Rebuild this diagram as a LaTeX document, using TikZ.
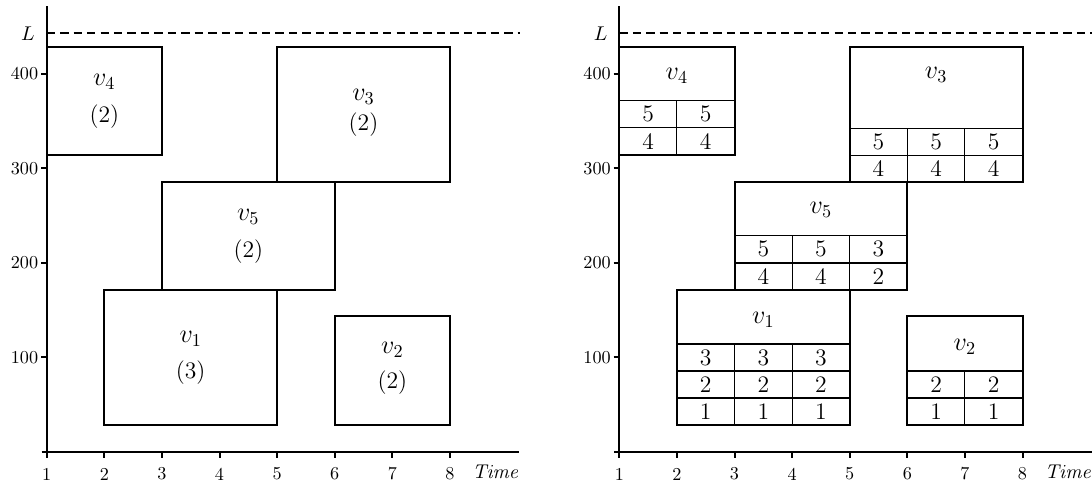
\documentclass[tikz,border=0pt]{standalone}
\begin{document}
\begin{tikzpicture}[x=0.55pt,y=-0.55pt,
  axis/.style={line width=1.1pt},
  box/.style={line width=1.1pt},
  cell/.style={line width=0.6pt},
  limline/.style={line width=1.1pt, dash pattern=on 4.6pt off 2.8pt},
  ticklab/.style={font=\normalsize, inner sep=0pt},
  lab/.style={font=\fontsize{13}{16}\selectfont, inner sep=0pt},
  vlab/.style={font=\Large, inner sep=0pt}]
\useasboundingbox (0,0) rectangle (1092,485);

% ---------- axes for both plots ----------
\foreach \off/\p in {0/a,572.6/b}{
  \draw[axis] (\off+46.7,458) -- (\off+46.7,6);
  \draw[axis] (\off+41.7,452) -- (\off+519,452);
  \foreach \v/\yy in {100/357.3,200/262.8,300/168.3,400/73.8}{
    \draw[axis] (\off+41,\yy) -- (\off+46.7,\yy);
    \node[ticklab,anchor=east] (\p-y\v) at (\off+38.5,\yy) {\v};
  }
  \foreach \t in {1,...,8}{
    \pgfmathsetmacro\xx{\off+46.7+(\t-1)*57.6}
    \draw[axis] (\xx,452) -- (\xx,458);
    \node[ticklab] (\p-x\t) at (\xx,474) {\t};
  }
  \node[ticklab,font=\fontsize{10.6}{12}\selectfont] (\p-time) at (\off+496,472) {$\mathit{Time}$};
  \node[ticklab,font=\fontsize{11}{13}\selectfont] (\p-L) at (\off+28,33.3) {$L$};
  \draw[limline] (\off+46.7,33.3) -- (\off+520,33.3);
}

% ---------- left plot ----------
\draw[box] (46.7,47.3) rectangle (161.9,155);
\draw[box] (277.1,47.3) rectangle (449.9,182.3);
\draw[box] (161.9,182.3) rectangle (334.7,290);
\draw[box] (104.3,290) rectangle (277.1,425);
\draw[box] (334.7,316.5) rectangle (449.9,425);

\node[vlab] (l4) at (104.3,82) {$v_4$};
\node[lab] (l4n) at (104.3,117) {(2)};
\node[vlab] (l3) at (363.5,96.5) {$v_3$};
\node[lab] (l3n) at (363.5,125) {(2)};
\node[vlab] (l5) at (248.3,216.7) {$v_5$};
\node[lab] (l5n) at (248.3,251.7) {(2)};
\node[vlab] (l1) at (190.7,339) {$v_1$};
\node[lab] (l1n) at (190.7,372.5) {(3)};
\node[vlab] (l2) at (392.3,350) {$v_2$};
\node[lab] (l2n) at (392.3,383) {(2)};

% ---------- right plot ----------
% v4
\draw[box] (619.3,47.3) rectangle (734.5,155);
\draw[cell] (619.3,100.7) -- (734.5,100.7) (619.3,127.7) -- (734.5,127.7)
            (676.9,100.7) -- (676.9,155);
\node[vlab] (r4) at (676.9,76) {$v_4$};
\foreach \xx/\yy/\t [count=\i] in {648.1/114.2/5,705.7/114.2/5,648.1/141.3/4,705.7/141.3/4}
  \node[lab] (r4-\i) at (\xx,\yy) {\t};
% v3
\draw[box] (849.7,47.3) rectangle (1022.5,182.3);
\draw[cell] (849.7,128.3) -- (1022.5,128.3) (849.7,155.3) -- (1022.5,155.3)
            (907.3,128.3) -- (907.3,182.3) (964.9,128.3) -- (964.9,182.3);
\node[vlab] (r3) at (936.1,75) {$v_3$};
\foreach \xx/\yy/\t [count=\i] in {878.5/141.8/5,936.1/141.8/5,993.7/141.8/5,878.5/168.8/4,936.1/168.8/4,993.7/168.8/4}
  \node[lab] (r3-\i) at (\xx,\yy) {\t};
% v5
\draw[box] (734.5,182.3) rectangle (907.3,290);
\draw[cell] (734.5,235.7) -- (907.3,235.7) (734.5,263) -- (907.3,263)
            (792.1,235.7) -- (792.1,290) (849.7,235.7) -- (849.7,290);
\node[vlab] (r5) at (820.9,210) {$v_5$};
\foreach \xx/\yy/\t [count=\i] in {763.3/249.3/5,820.9/249.3/5,878.5/249.3/3,763.3/276.5/4,820.9/276.5/4,878.5/276.5/2}
  \node[lab] (r5-\i) at (\xx,\yy) {\t};
% v1
\draw[box] (676.9,290) rectangle (849.7,425);
\draw[cell] (676.9,344) -- (849.7,344) (676.9,371) -- (849.7,371) (676.9,398) -- (849.7,398)
            (734.5,344) -- (734.5,425) (792.1,344) -- (792.1,425);
\node[vlab] (r1) at (763.3,320) {$v_1$};
\foreach \xx/\yy/\t [count=\i] in {705.7/357.5/3,763.3/357.5/3,820.9/357.5/3,705.7/384.5/2,763.3/384.5/2,820.9/384.5/2,705.7/411.5/1,763.3/411.5/1,820.9/411.5/1}
  \node[lab] (r1-\i) at (\xx,\yy) {\t};
% v2
\draw[box] (907.3,316.5) rectangle (1022.5,425);
\draw[cell] (907.3,371) -- (1022.5,371) (907.3,398) -- (1022.5,398)
            (964.9,371) -- (964.9,425);
\node[vlab] (r2) at (964.9,346.7) {$v_2$};
\foreach \xx/\yy/\t [count=\i] in {936.1/384.5/2,993.7/384.5/2,936.1/411.5/1,993.7/411.5/1}
  \node[lab] (r2-\i) at (\xx,\yy) {\t};
\end{tikzpicture}
\end{document}
